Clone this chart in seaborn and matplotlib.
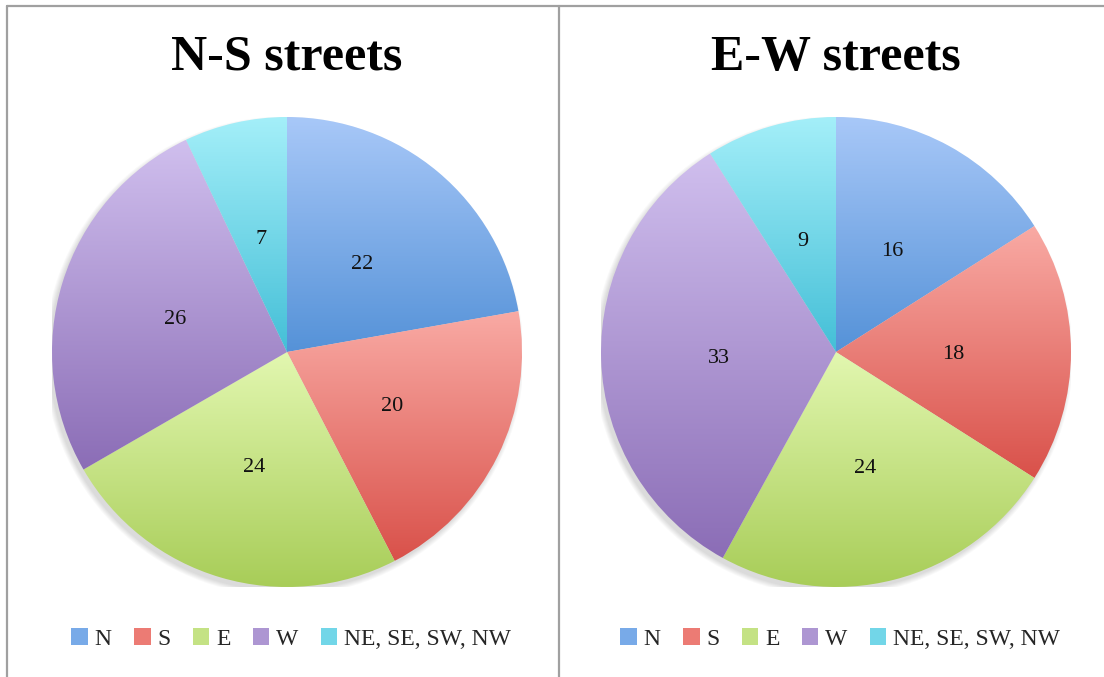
import numpy as np
import matplotlib
matplotlib.use("Agg")
import matplotlib.pyplot as plt
from matplotlib.lines import Line2D
from matplotlib.patches import Patch, Circle
from matplotlib.colors import to_rgb
import seaborn as sns

# data
directions = ["N", "S", "E", "W", "NE, SE, SW, NW"]
ns_values = [22, 20, 24, 26, 7]
ew_values = [16, 18, 24, 33, 9]
titles = ["N-S streets", "E-W streets"]

# gradient colours per slice (top, bottom)
top_colors = ["#a8c8f8", "#f9aaa4", "#e2f7b0", "#d0bfee", "#a4eff9"]
bottom_colors = ["#5592d8", "#d9514a", "#a8cd58", "#8b6db6", "#44bfd7"]
mid_colors = ["#78aae8", "#ec7b74", "#c4e284", "#ad96d2", "#72d6e8"]

sns.set_theme(style="white")
plt.rcParams["font.family"] = ["Liberation Serif", "DejaVu Serif"]

W, H = 1104, 677
fig = plt.figure(figsize=(W / 100, H / 100), dpi=100)
fig.patch.set_facecolor("white")

R = 235
centers = [(287, 352), (836, 352)]


def gradient_wedges(ax, wedges):
    for i, w in enumerate(wedges):
        bb = w.get_path().get_extents()
        c0 = np.array(to_rgb(top_colors[i]))
        c1 = np.array(to_rgb(bottom_colors[i]))
        t = np.linspace(0, 1, 256)[:, None, None]
        img = c0 * (1 - t) + c1 * t
        im = ax.imshow(img, extent=[bb.x0, bb.x1, bb.y0, bb.y1], origin="upper",
                       aspect="auto", interpolation="bilinear", zorder=2)
        im.set_clip_path(w)
        w.set_facecolor("none")


for k, (vals, title) in enumerate(zip([ns_values, ew_values], titles)):
    cx, cy = centers[k]
    ax = fig.add_axes([(cx - R) / W, (H - cy - R) / H, 2 * R / W, 2 * R / H])
    # soft shadow
    for j in range(6):
        ax.add_patch(Circle((-0.012, -0.018), 1 + j * 0.004, color="black",
                            alpha=0.025, lw=0, zorder=0))
    wedges, texts = ax.pie(vals, startangle=90, counterclock=False, radius=1,
                           labels=[str(v) for v in vals], labeldistance=0.5,
                           wedgeprops=dict(linewidth=0, zorder=1),
                           textprops=dict(fontsize=16, color="#111111", zorder=5))
    for t in texts:
        t.set_ha("center")
        t.set_va("center_baseline")
    gradient_wedges(ax, wedges)
    ax.set_xlim(-1, 1)
    ax.set_ylim(-1, 1)
    ax.set_aspect("equal")
    ax.axis("off")

    fig.text(cx / W, 1 - 58 / H, title, ha="center", va="center",
             fontsize=36, fontweight="bold", color="black")

    handles = [Patch(facecolor=c, edgecolor="none") for c in mid_colors]
    fig.legend(handles, directions, loc="center", bbox_to_anchor=((cx + 4) / W, 1 - 639 / H),
               ncol=5, frameon=False, fontsize=17, handlelength=0.7, handleheight=0.7,
               handletextpad=0.28, columnspacing=0.95, borderaxespad=0)

# panel borders
lc = "#a0a0a0"
lw = 1.6
fig.add_artist(Line2D([7 / W, 1], [1 - 6 / H, 1 - 6 / H], color=lc, lw=lw))
fig.add_artist(Line2D([7 / W, 7 / W], [0, 1 - 6 / H], color=lc, lw=lw))
fig.add_artist(Line2D([559 / W, 559 / W], [0, 1 - 6 / H], color=lc, lw=lw))

fig.savefig("out.png", dpi=100, facecolor="white")
